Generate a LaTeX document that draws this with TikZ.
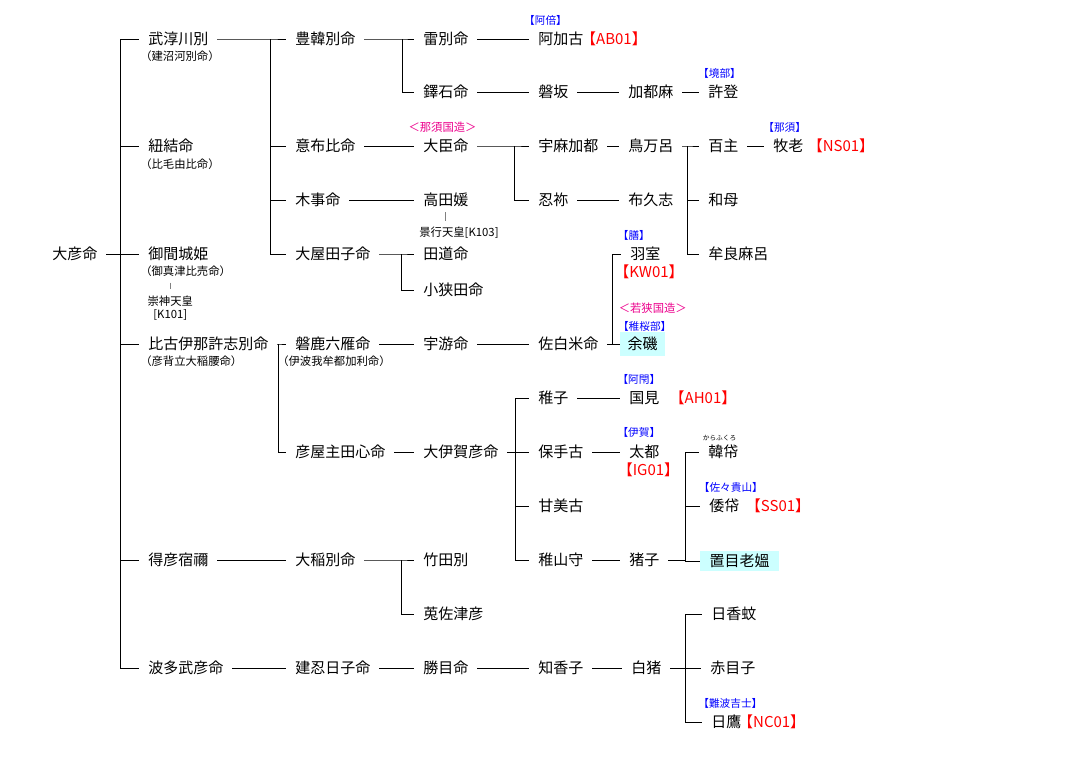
\documentclass[tikz,border=0pt]{standalone}
\usepackage{fontspec}
\setmainfont{Noto Sans CJK JP}
\usepackage{xcolor}
\usetikzlibrary{positioning}
\definecolor{boxcyan}{RGB}{204,255,255}
\tikzset{
    nm/.style={anchor=west, xshift=-6.5pt, inner xsep=6.5pt, inner ysep=0pt,
        text height=0.88em, text depth=0.12em, font=\fontsize{11.25}{13}\selectfont},
    hlbox/.style={fill=boxcyan, inner sep=0pt, minimum width=#1,
        text height=0.88em, text depth=0.12em, font=\fontsize{11.25}{13}\selectfont},
    subname/.style={anchor=west, inner sep=0pt, font=\fontsize{8.5}{10}\selectfont},
    emp/.style={inner sep=0pt, align=center, font=\fontsize{8.5}{10}\selectfont},
    clantag/.style={blue, inner sep=0pt, font=\fontsize{8}{9}\selectfont},
    kunitag/.style={magenta, inner sep=0pt, font=\fontsize{8.5}{10}\selectfont},
    cdtag/.style={red, inner sep=0pt, font=\fontsize{11.25}{13}\selectfont},
    famline/.style={line width=0.75pt},
    marry/.style={gray, line width=0.75pt}
}
\begin{document}
\begin{tikzpicture}[x=0.75pt, y=-0.75pt]
    \useasboundingbox (0,0) rectangle (1068,760);

    % names
    \node[nm] (ohiko) at (52,254) {大彦命};

    \node[nm] (take) at (148,39) {武淳川別};
    \node[subname] (takesub) at (140,56) {（建沼河別命）};
    \node[nm] (nuyui) at (148,146) {紐結命};
    \node[subname] (nuyuisub) at (140,164) {（比毛由比命）};
    \node[nm] (mima) at (148,254) {御間城姫};
    \node[subname] (mimasub) at (140,271) {（御真津比売命）};
    \node[emp] (sujin) at (170.3,308) {崇神天皇\\{[K101]}};
    \node[nm] (hikoi) at (148,344) {比古伊那許志別命};
    \node[subname] (hikoisub) at (140,361) {（彦背立大稲腰命）};
    \node[nm] (etoku) at (148,560) {得彦宿禰};
    \node[nm] (hata) at (148,668) {波多武彦命};

    \node[nm] (toyo) at (295,39) {豊韓別命};
    \node[nm] (ofuhi) at (295,146) {意布比命};
    \node[nm] (kigoto) at (295,200) {木事命};
    \node[nm] (oyata) at (295,254) {大屋田子命};
    \node[nm] (iwaka) at (295,344) {磐鹿六雁命};
    \node[subname] (iwakasub) at (277,361) {（伊波我牟都加利命）};
    \node[nm] (hikoya) at (295,452) {彦屋主田心命};
    \node[nm] (oina) at (295,560) {大稲別命};
    \node[nm] (takeo) at (295,668) {建忍日子命};

    \node[nm] (ikazu) at (423,39) {雷別命};
    \node[nm] (nuteshi) at (423,92) {鐸石命};
    \node[nm] (oomi) at (423,146) {大臣命};
    \node[kunitag] (nasukuni) at (442.5,127) {＜那須国造＞};
    \node[nm] (takata) at (423,200) {高田媛};
    \node[emp] (keiko) at (459,233) {景行天皇[K103]};
    \node[nm] (tadi) at (423,254) {田道命};
    \node[nm] (osada) at (423,290) {小狭田命};
    \node[nm] (uzu) at (423,344) {宇游命};
    \node[nm] (oiga) at (423,452) {大伊賀彦命};
    \node[nm] (takeda) at (423,560) {竹田別};
    \node[nm] (usatsu) at (423,614) {莵佐津彦};
    \node[nm] (katsume) at (423,668) {勝目命};

    \node[nm] (akako) at (538,39) {阿加古};
    \node[clantag] (abe) at (545.5,20) {【阿倍】};
    \node[cdtag] (ab01) at (614,39) {【AB01】};
    \node[nm] (iwasaka) at (538,92) {磐坂};
    \node[nm] (umaka) at (538,146) {宇麻加都};
    \node[nm] (oshine) at (538,200) {忍祢};
    \node[nm] (sashiro) at (538,344) {佐白米命};
    \node[nm] (wakugo) at (538,398) {稚子};
    \node[nm] (hote) at (538,452) {保手古};
    \node[nm] (umako) at (538,506) {甘美古};
    \node[nm] (wakaya) at (538,560) {稚山守};
    \node[nm] (chika) at (538,668) {知香子};

    \node[nm] (katsuma) at (628,92) {加都麻};
    \node[nm] (tomaro) at (628,146) {鳥万呂};
    \node[nm] (fukushi) at (628,200) {布久志};
    \node[nm] (hamuro) at (630,254) {羽室};
    \node[clantag] (kashiwade) at (633.9,235) {【膳】};
    \node[cdtag] (kw01) at (649,272) {【KW01】};
    \node[hlbox=33.75pt, minimum height=17.5pt] (amaiso) at (642.5,344) {余磯};
    \node[clantag] (wakasakurabe) at (644.7,326) {【稚桜部】};
    \node[kunitag] (wakasakuni) at (652.8,308) {＜若狭国造＞};
    \node[nm] (kunimi) at (629,398) {国見};
    \node[clantag] (ahe) at (638.9,379) {【阿閇】};
    \node[cdtag] (ah01) at (703,398) {【AH01】};
    \node[nm] (futo) at (629,452) {太都};
    \node[clantag] (iga) at (638.9,432) {【伊賀】};
    \node[cdtag] (ig01) at (648.5,470) {【IG01】};
    \node[nm] (inoko) at (629,560) {猪子};
    \node[nm] (shirai) at (631,668) {白猪};

    \node[nm] (koto) at (708,92) {許登};
    \node[clantag] (sakaibe) at (719.5,73) {【境部】};
    \node[nm] (momo) at (708,146) {百主};
    \node[nm] (wamo) at (708,200) {和母};
    \node[nm] (mura) at (708,254) {牟良麻呂};
    \node[nm] (karafu) at (708,452) {韓帒};
    \node[inner sep=0pt, font=\fontsize{5}{6}\selectfont] (karafuruby) at (719.5,437.7) {からふくろ};
    \node[nm] (yamato) at (709,506) {倭帒};
    \node[clantag] (sasaki) at (730.9,487) {【佐々貴山】};
    \node[cdtag] (ss01) at (778,506) {【SS01】};
    \node[hlbox=59.25pt, minimum height=15pt] (okime) at (739.5,561) {置目老媼};
    \node[nm] (hika) at (711,614) {日香蚊};
    \node[nm] (akame) at (710,668) {赤目子};
    \node[nm] (hitaka) at (711,722) {日鷹};
    \node[clantag] (naniwa) at (730.4,703) {【難波吉士】};
    \node[cdtag] (nc01) at (771.7,722) {【NC01】};

    \node[nm] (makio) at (773,146) {牧老};
    \node[clantag] (nasu) at (784.7,127) {【那須】};
    \node[cdtag] (ns01) at (841,146) {【NS01】};

    % trunks
    \coordinate (tA) at (120,0);
    \coordinate (tB) at (270,0);
    \coordinate (tC) at (402,0);
    \coordinate (tD) at (401,0);
    \coordinate (tE) at (514,0);
    \coordinate (tF) at (687,0);
    \coordinate (tG) at (612,0);
    \coordinate (tH) at (278,0);
    \coordinate (tI) at (515.7,0);
    \coordinate (tJ) at (685,0);

    \draw[famline] (ohiko.east) -- (ohiko -| tA) |- (take.west)
        (ohiko -| tA) |- (nuyui.west) (ohiko -| tA) |- (mima.west)
        (ohiko -| tA) |- (hikoi.west) (ohiko -| tA) |- (etoku.west)
        (ohiko -| tA) |- (hata.west);
    \draw[famline] (take.east) -- (take -| tB) |- (toyo.west)
        (take -| tB) |- (ofuhi.west) (take -| tB) |- (kigoto.west)
        (take -| tB) |- (oyata.west);
    \draw[famline] (toyo.east) -- (toyo -| tC) |- (ikazu.west)
        (toyo -| tC) |- (nuteshi.west);
    \draw[famline] (oyata.east) -- (oyata -| tD) |- (tadi.west)
        (oyata -| tD) |- (osada.west);
    \draw[famline] (oomi.east) -- (oomi -| tE) |- (umaka.west)
        (oomi -| tE) |- (oshine.west);
    \draw[famline] (tomaro.east) -- (tomaro -| tF) |- (momo.west)
        (tomaro -| tF) |- (wamo.west) (tomaro -| tF) |- (mura.west);
    \draw[famline] (sashiro.east) -- (sashiro -| tG) |- (hamuro.west)
        (sashiro -| tG) |- (amaiso.west);
    \draw[famline] (hikoi.east) -- (hikoi -| tH) |- (iwaka.west)
        (hikoi -| tH) |- (hikoya.west);
    \draw[famline] (oiga.east) -- (oiga -| tI) |- (wakugo.west)
        (oiga -| tI) |- (hote.west) (oiga -| tI) |- (umako.west)
        (oiga -| tI) |- (wakaya.west);
    \draw[famline] (inoko.east) -- (inoko -| tJ) |- (karafu.west)
        (inoko -| tJ) |- (yamato.west) (inoko -| tJ) |- (okime.west);
    \draw[famline] (oina.east) -- (oina -| tD) |- (takeda.west)
        (oina -| tD) |- (usatsu.west);
    \draw[famline] (shirai.east) -- (shirai -| tJ) |- (hika.west)
        (shirai -| tJ) |- (akame.west) (shirai -| tJ) |- (hitaka.west);

    \draw[famline] (ofuhi.east) -- (oomi.west);
    \draw[famline] (kigoto.east) -- (takata.west);
    \draw[famline] (ikazu.east) -- (akako.west);
    \draw[famline] (nuteshi.east) -- (iwasaka.west);
    \draw[famline] (iwasaka.east) -- (katsuma.west);
    \draw[famline] (katsuma.east) -- (koto.west);
    \draw[famline] (umaka.east) -- (tomaro.west);
    \draw[famline] (oshine.east) -- (fukushi.west);
    \draw[famline] (momo.east) -- (makio.west);
    \draw[famline] (iwaka.east) -- (uzu.west);
    \draw[famline] (uzu.east) -- (sashiro.west);
    \draw[famline] (hikoya.east) -- (oiga.west);
    \draw[famline] (wakugo.east) -- (kunimi.west);
    \draw[famline] (hote.east) -- (futo.west);
    \draw[famline] (wakaya.east) -- (inoko.west);
    \draw[famline] (etoku.east) -- (oina.west);
    \draw[famline] (hata.east) -- (takeo.west);
    \draw[famline] (takeo.east) -- (katsume.west);
    \draw[famline] (katsume.east) -- (chika.west);
    \draw[famline] (chika.east) -- (shirai.west);

    \draw[marry, shorten <=4.5pt, shorten >=4.5pt] (mimasub.south -| sujin.north) -- (sujin.north);
    \draw[marry, shorten <=4pt, shorten >=4.5pt] (takata.south) -- (takata.south |- keiko.north);
\end{tikzpicture}
\end{document}
